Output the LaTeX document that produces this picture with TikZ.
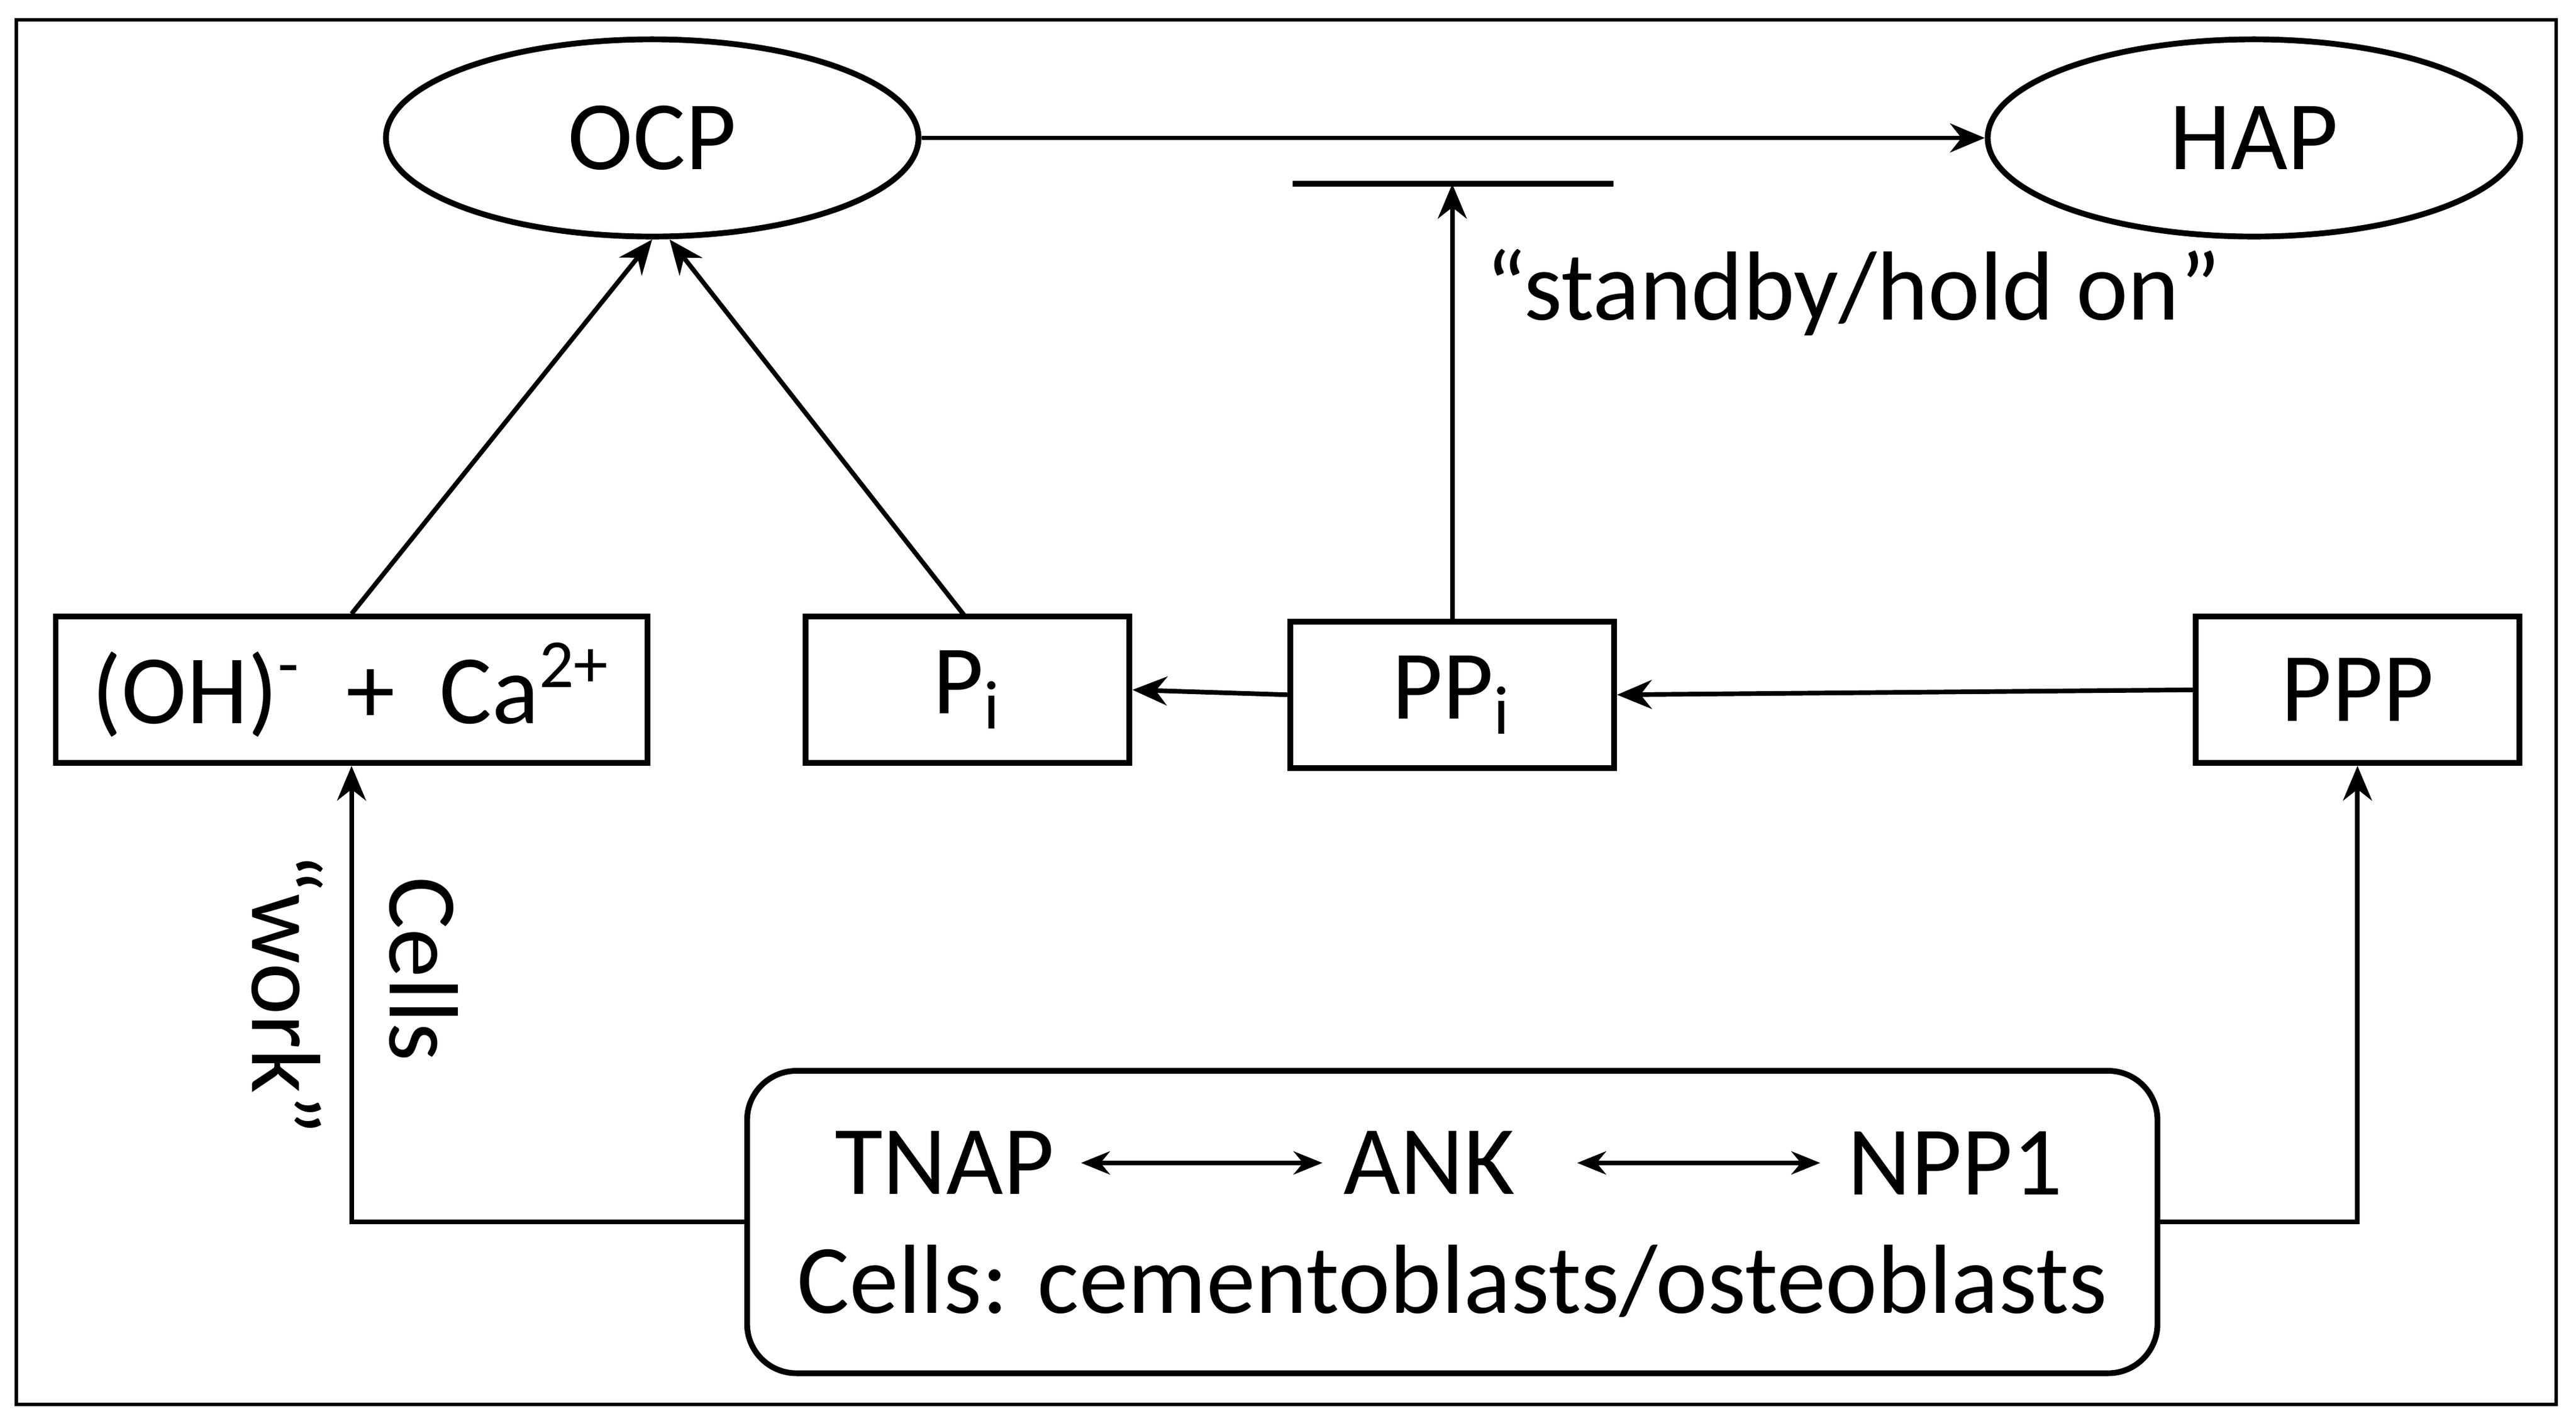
\documentclass[tikz,border=0pt]{standalone}
\usepackage{fontspec}
\setmainfont{Carlito}
\usetikzlibrary{arrows.meta,shapes.geometric}
\begin{document}
\begin{tikzpicture}[x=0.01cm,y=-0.01cm,
  every node/.style={font=\fontsize{17}{20}\selectfont},
  box/.style={draw,line width=1pt,inner sep=0pt},
  ell/.style={draw,ellipse,line width=1pt,inner sep=0pt},
  arr/.style={line width=0.8pt,-{Stealth[length=6pt,width=5pt]}},
  darr/.style={line width=0.8pt,{Stealth[length=5pt,width=4pt]}-{Stealth[length=5pt,width=4pt]}}]
\useasboundingbox (0,0) rectangle (1568,868);
\draw[line width=0.6pt] (10,12) rectangle (1556,855);
\node[ell,minimum width=3.24cm,minimum height=1.2cm] (ocp) at (397,84) {OCP};
\node[ell,minimum width=3.24cm,minimum height=1.2cm] (hap) at (1372,84) {HAP};
\node[box,minimum width=3.6cm,minimum height=0.89cm] (oh) at (214,420) {(OH)\textsuperscript{-}\ \ +\ \ Ca\textsuperscript{2+}};
\node[box,minimum width=1.97cm,minimum height=0.89cm] (pi) at (589,420) {P\textsubscript{i}};
\node[box,minimum width=1.97cm,minimum height=0.89cm] (ppi) at (884,423) {PP\textsubscript{i}};
\node[box,minimum width=1.97cm,minimum height=0.89cm] (ppp) at (1435,420) {PPP};
\node[box,rounded corners=0.3cm,minimum width=8.58cm,minimum height=1.84cm] (cells) at (884,744) {};
\node (tnap) at (575,708) {TNAP};
\node (ank) at (870,708) {ANK};
\node (npp) at (1190,708) {NPP1};
\node (ct) at (884,780) {Cells: cementoblasts/osteoblasts};
\node (sb) at (1128,178) {``standby/hold on''};
\node[rotate=-90] (wk) at (175,605) {``work''};
\node[rotate=-90] (cl) at (258,590) {Cells};
\coordinate (bl) at (787,112);
\coordinate (br) at (982,112);
\coordinate (bm) at (884,112);
\coordinate (pit) at (588,376);
\draw[line width=1pt] (bl) -- (br);
\draw[arr] (ocp) -- (hap);
\draw[arr] (ppi.north) -- (bm);
\draw[arr] (oh.north) -- (ocp.south);
\draw[arr] (pit) -- ([xshift=3]ocp.south);
\draw[arr] (ppi.west) -- (pi.east);
\draw[arr] (ppp.west) -- (ppi.east);
\draw[darr] (658,708) -- (805,708);
\draw[darr] (960,708) -- (1108,708);
\draw[arr] (cells.west) -| (oh.south);
\draw[arr] (cells.east) -| (ppp.south);
\end{tikzpicture}
\end{document}
